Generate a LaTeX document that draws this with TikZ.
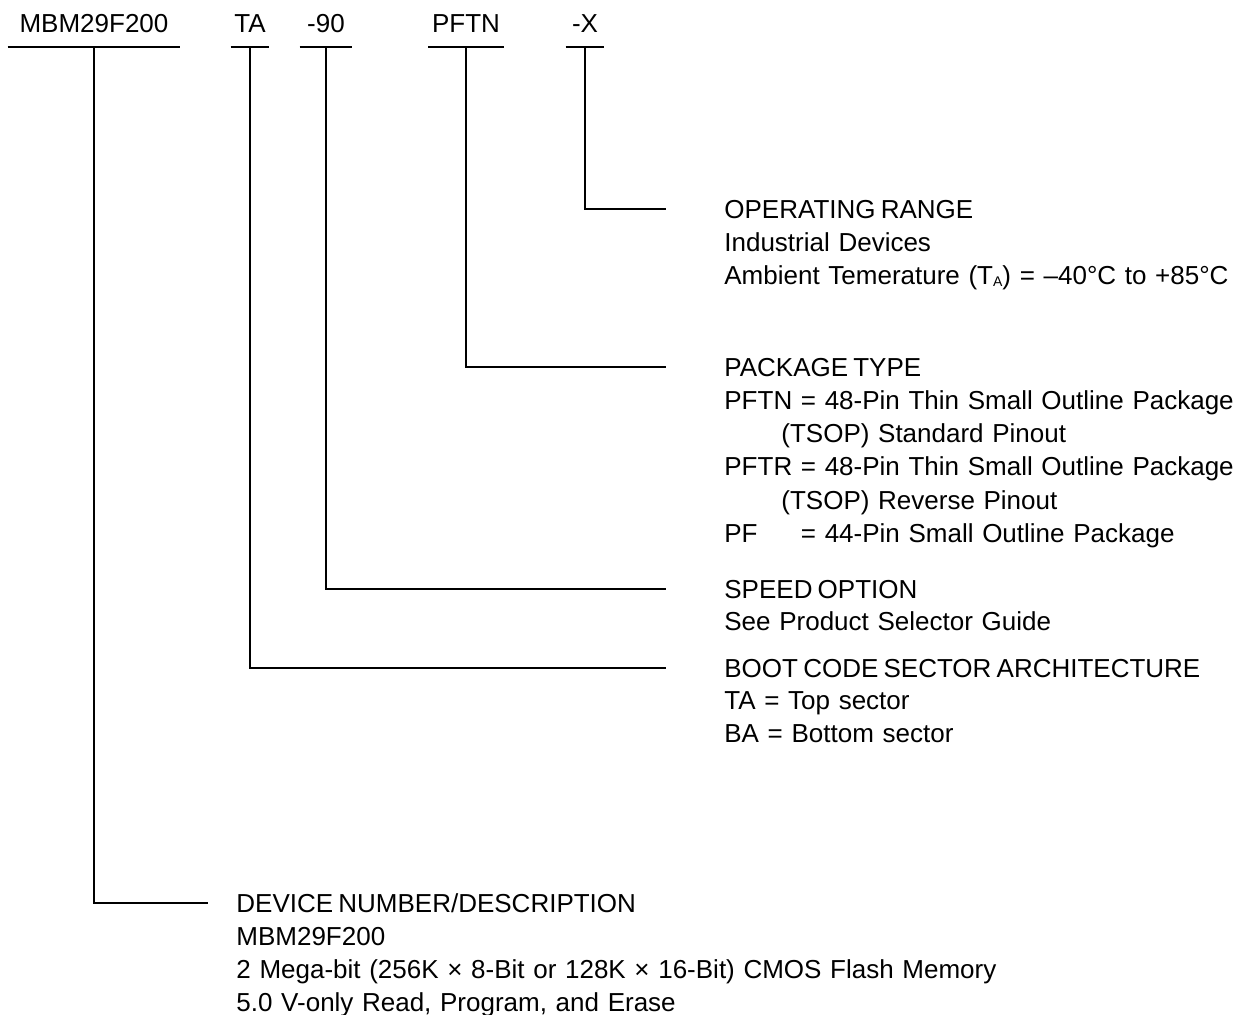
\documentclass[tikz,border=0pt]{standalone}
\usepackage{fontspec}
\setmainfont{Liberation Sans}[WordSpace=0.72]
\usetikzlibrary{positioning}

\begin{document}
\begin{tikzpicture}[x=0.5pt, y=-0.5pt, txt/.style={font=\fontsize{13}{16.6}\selectfont}, part/.style={txt, anchor=south, inner xsep=0pt, inner ysep=7.25pt, text height=9.3pt, text depth=0pt}, head/.style={txt, anchor=west, inner sep=0pt, text height=9.3pt, text depth=0pt}, body/.style={txt, anchor=base west, inner sep=0pt, text width=480pt, align=left}, uline/.style={line width=0.6pt}, lead/.style={line width=0.6pt, shorten >=29pt}]
\useasboundingbox (0,0) rectangle (1239,1015);
\node[part, minimum width=86pt] (mbm) at (94,47) {MBM29F200};
\node[part, minimum width=19pt] (ta) at (250,47) {TA};
\node[part, minimum width=26pt] (spd) at (326,47) {-90};
\node[part, minimum width=37.5pt] (pkg) at (466,47) {PFTN};
\node[part, minimum width=19pt] (opt) at (585,47) {-X};
\foreach \p in {mbm,ta,spd,pkg,opt}
  \draw[uline] (\p.south west) -- (\p.south east);
\node[head] (rnghd) at (724,209) {OPERATING RANGE};
\node[body] (rngtxt) at ([yshift=-16.75pt]rnghd.base west) {Industrial Devices\\Ambient Temerature (T\raisebox{-0.1ex}{\scriptsize A}) = –40°C to +85°C};
\node[head] (pkghd) at (724,367) {PACKAGE TYPE};
\node[body] (pkgtxt) at ([yshift=-16.6pt]pkghd.base west) {PFTN = 48-Pin Thin Small Outline Package\\\hspace*{28.5pt}(TSOP) Standard Pinout\\PFTR = 48-Pin Thin Small Outline Package\\\hspace*{28.5pt}(TSOP) Reverse Pinout\\PF\phantom{TN} = 44-Pin Small Outline Package};
\node[head] (spdhd) at (724,589) {SPEED OPTION};
\node[body] (spdtxt) at ([yshift=-16pt]spdhd.base west) {See Product Selector Guide};
\node[head] (boothd) at (724,668) {BOOT CODE SECTOR ARCHITECTURE};
\node[body] (boottxt) at ([yshift=-16.25pt]boothd.base west) {TA = Top sector\\BA = Bottom sector};
\node[head] (devhd) at (236,903) {DEVICE NUMBER/DESCRIPTION};
\node[body] (devtxt) at ([yshift=-16.4pt]devhd.base west) {MBM29F200\\2 Mega-bit (256K × 8-Bit or 128K × 16-Bit) CMOS Flash Memory\\5.0 V-only Read, Program, and Erase};
\draw[lead] (opt.south) |- (rnghd.west);
\draw[lead] (pkg.south) |- (pkghd.west);
\draw[lead] (spd.south) |- (spdhd.west);
\draw[lead] (ta.south) |- (boothd.west);
\draw[lead, shorten >=14pt] (mbm.south) |- (devhd.west);
\end{tikzpicture}
\end{document}
